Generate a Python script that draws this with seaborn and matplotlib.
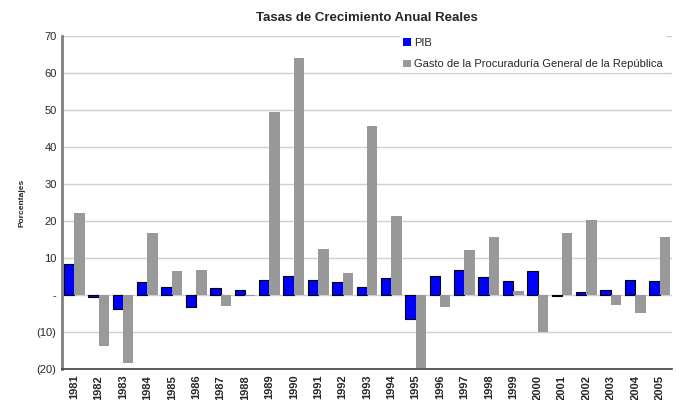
import numpy as np
import pandas as pd
import matplotlib
matplotlib.use('Agg')
import matplotlib.pyplot as plt
import seaborn as sns

years = [str(y) for y in range(1981, 2006)]
pib = [8.5, -0.6, -3.8, 3.6, 2.2, -3.3, 1.8, 1.4, 4.1, 5.3, 4.1, 3.6, 2.1,
       4.5, -6.5, 5.3, 6.8, 4.9, 3.8, 6.6, -0.3, 0.8, 1.4, 4.1, 3.8]
gasto = [22.2, -13.7, -18.4, 16.7, 6.5, 6.9, -3.0, -0.3, 49.4, 64.0, 12.5, 6.0, 45.6,
         21.4, -19.8, -3.2, 12.3, 15.6, 1.0, -9.9, 16.8, 20.2, -2.6, -4.9, 15.6]
series = ['PIB', 'Gasto de la Procuraduría General de la República']
yticks = [-20, -10, 0, 10, 20, 30, 40, 50, 60, 70]
ytick_labels = ['(20)', '(10)', '-', '10', '20', '30', '40', '50', '60', '70']

df = pd.DataFrame({
    'Año': years * 2,
    'valor': pib + gasto,
    'serie': [series[0]] * len(years) + [series[1]] * len(years),
})

sns.set_style('white')
plt.rcParams['font.family'] = ['Liberation Sans', 'DejaVu Sans']

fig, ax = plt.subplots(figsize=(6.82, 4.0), dpi=100)
fig.subplots_adjust(left=0.091, right=0.985, top=0.91, bottom=0.077)

sns.barplot(data=df, x='Año', y='valor', hue='serie', ax=ax,
            palette=['#0000ff', '#999999'], width=0.85, saturation=1,
            edgecolor='none', zorder=3)
for patch in ax.containers[0]:
    patch.set_edgecolor('black')
    patch.set_linewidth(0.8)

ax.set_ylim(-20, 70)
ax.set_yticks(yticks)
ax.set_yticklabels(ytick_labels, fontsize=8)
ax.yaxis.grid(True, color='#d0d0d0', lw=1, zorder=0)
ax.set_axisbelow(True)
ax.set_xlabel('')
ax.set_ylabel('Porcentajes', fontsize=6, fontweight='bold', labelpad=8)
plt.setp(ax.get_xticklabels(), rotation=90, fontsize=8, fontweight='bold')
ax.tick_params(axis='both', length=2, pad=2)

for s in ['top', 'right']:
    ax.spines[s].set_visible(False)
ax.spines['left'].set_color('#808080')
ax.spines['left'].set_linewidth(2)
ax.spines['bottom'].set_color('#404040')
ax.spines['bottom'].set_linewidth(1.2)

ax.set_title('Tasas de Crecimiento Anual Reales', fontsize=9.5,
             fontweight='bold', pad=11)

handles, labels = ax.get_legend_handles_labels()
leg = ax.legend(handles, labels, loc='upper right', bbox_to_anchor=(1.0, 1.02),
                fontsize=8, frameon=True, facecolor='white', edgecolor='none',
                framealpha=1, handlelength=0.7, handleheight=0.7,
                handletextpad=0.3, labelspacing=1.0, borderpad=0.3)
leg.get_frame().set_boxstyle('square', pad=0.0)

plt.savefig('out.png', dpi=100)
